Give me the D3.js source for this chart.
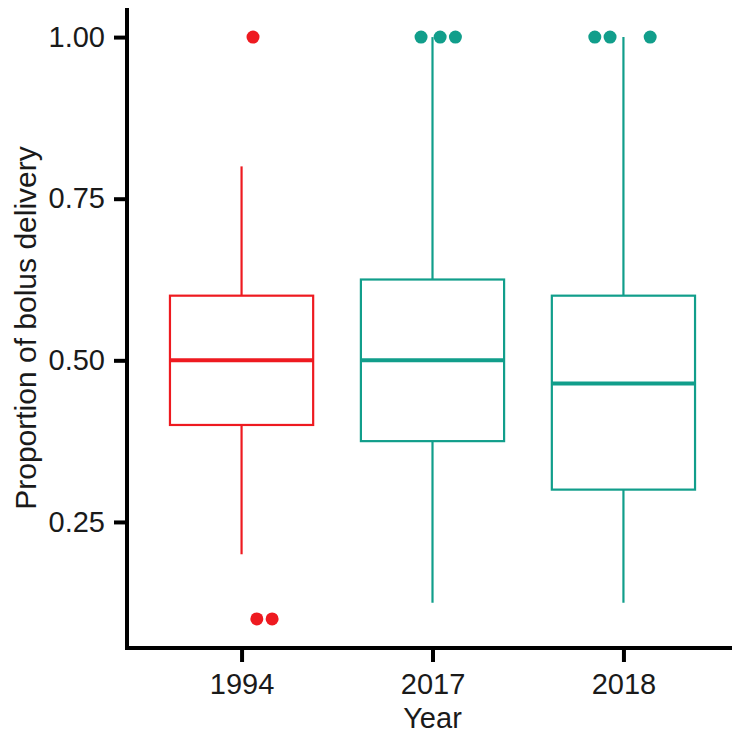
<!DOCTYPE html>
<html>
<head>
<meta charset="utf-8">
<script src="https://cdn.jsdelivr.net/npm/d3@7"></script>
<style>
  body { margin: 0; background: #fff; }
  text { font-family: "Liberation Sans", Arial, sans-serif; }
</style>
</head>
<body>
<div id="chart"></div>
<script>
// ----- data
var years = ["1994", "2017", "2018"];
var lowerWhisker = [0.20, 0.125, 0.125];
var q1 = [0.40, 0.375, 0.30];
var median = [0.50, 0.50, 0.464];
var q3 = [0.60, 0.625, 0.60];
var upperWhisker = [0.80, 1.00, 1.00];
// outliers: [year index, value, jitter offset in category steps]
var outliers = [
  [0, 1.00, 0.06], [0, 0.10, 0.08], [0, 0.10, 0.16],
  [1, 1.00, -0.06], [1, 1.00, 0.04], [1, 1.00, 0.12],
  [2, 1.00, -0.15], [2, 1.00, -0.07], [2, 1.00, 0.14]
];
var yTicks = [0.25, 0.50, 0.75, 1.00];
var colors = ["#ee1a20", "#119e8b", "#119e8b"];

var W = 732, H = 738;
var mLeft = 127, mBottom = 648, mTop = 8;

var svg = d3.select("#chart").append("svg")
  .attr("width", W)
  .attr("height", H);

var x = d3.scalePoint()
  .domain(years)
  .range([mLeft, 738])
  .padding(0.6);
var step = x.step();
var boxW = step * 0.75;

var y = d3.scaleLinear()
  .domain([0.055, 1.045])
  .range([mBottom, mTop]);

var boxes = years.map(function(yr, i) {
  return { year: yr, lo: lowerWhisker[i], q1: q1[i], med: median[i], q3: q3[i], hi: upperWhisker[i], color: colors[i] };
});

var g = svg.selectAll("g.box")
  .data(boxes)
  .enter().append("g")
  .attr("class", "box");

// whiskers
g.append("line")
  .attr("x1", function(d) { return x(d.year); })
  .attr("x2", function(d) { return x(d.year); })
  .attr("y1", function(d) { return y(d.q3); })
  .attr("y2", function(d) { return y(d.hi); })
  .attr("stroke", function(d) { return d.color; })
  .attr("stroke-width", 2.2);
g.append("line")
  .attr("x1", function(d) { return x(d.year); })
  .attr("x2", function(d) { return x(d.year); })
  .attr("y1", function(d) { return y(d.q1); })
  .attr("y2", function(d) { return y(d.lo); })
  .attr("stroke", function(d) { return d.color; })
  .attr("stroke-width", 2.2);

// box
g.append("rect")
  .attr("x", function(d) { return x(d.year) - boxW / 2; })
  .attr("width", boxW)
  .attr("y", function(d) { return y(d.q3); })
  .attr("height", function(d) { return y(d.q1) - y(d.q3); })
  .attr("fill", "none")
  .attr("stroke", function(d) { return d.color; })
  .attr("stroke-width", 2.2);

// median
g.append("line")
  .attr("x1", function(d) { return x(d.year) - boxW / 2; })
  .attr("x2", function(d) { return x(d.year) + boxW / 2; })
  .attr("y1", function(d) { return y(d.med); })
  .attr("y2", function(d) { return y(d.med); })
  .attr("stroke", function(d) { return d.color; })
  .attr("stroke-width", 4);

// outliers
svg.selectAll("circle.out")
  .data(outliers)
  .enter().append("circle")
  .attr("class", "out")
  .attr("cx", function(d) { return x(years[d[0]]) + d[2] * step; })
  .attr("cy", function(d) { return y(d[1]); })
  .attr("r", 6.5)
  .attr("fill", function(d) { return colors[d[0]]; });

// axes
var yAxis = svg.append("g")
  .attr("transform", "translate(" + mLeft + ",0)")
  .call(d3.axisLeft(y).tickValues(yTicks).tickFormat(d3.format(".2f")).tickSize(13).tickPadding(9));
var xAxis = svg.append("g")
  .attr("transform", "translate(0," + mBottom + ")")
  .call(d3.axisBottom(x).tickSize(14).tickPadding(11));

[yAxis, xAxis].forEach(function(a) {
  a.select(".domain").remove();
  a.selectAll(".tick line").attr("stroke", "#000").attr("stroke-width", 4);
  a.selectAll(".tick text").attr("fill", "#1a1a1a").style("font-size", "29px");
});

// axis lines drawn as an L
svg.append("path")
  .attr("d", "M" + mLeft + "," + mTop + "V" + mBottom + "H" + W)
  .attr("fill", "none")
  .attr("stroke", "#000")
  .attr("stroke-width", 4);

// titles
svg.append("text")
  .attr("x", x("2017"))
  .attr("y", 728)
  .attr("text-anchor", "middle")
  .style("font-size", "29px")
  .attr("fill", "#1a1a1a")
  .text("Year");

svg.append("text")
  .attr("transform", "translate(36," + (mTop + mBottom) / 2 + ") rotate(-90)")
  .attr("text-anchor", "middle")
  .style("font-size", "30px")
  .attr("fill", "#1a1a1a")
  .text("Proportion of bolus delivery");
</script>
</body>
</html>
